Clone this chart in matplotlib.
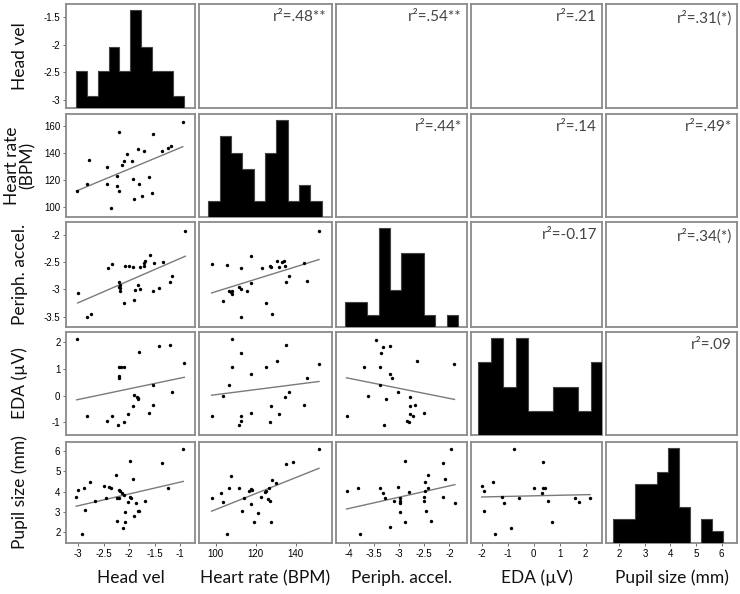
import numpy as np
import matplotlib
matplotlib.use("Agg")
import matplotlib.pyplot as plt

plt.rcParams['axes.unicode_minus'] = False

# ---------------- data ----------------
col_labels = ["Head vel", "Heart rate (BPM)", "Periph. accel.", "EDA (µV)", "Pupil size (mm)"]
row_labels = ["Head vel", "Heart rate\n(BPM)", "Periph. accel.", "EDA (µV)", "Pupil size (mm)"]

x_ranges = [(-3.24, -0.71), (91.7, 158.2), (-4.26, -1.65), (-2.41, 2.63), (1.48, 6.6)]
y_ranges = [(-3.145, -1.265), (92.9, 168.6), (-3.69, -1.76), (-1.48, 2.39), (1.48, 6.43)]
x_ticks = [[-3, -2.5, -2, -1.5, -1], [100, 120, 140], [-4, -3.5, -3, -2.5, -2], [-2, -1, 0, 1, 2], [2, 3, 4, 5, 6]]
x_ticklabels = [["-3", "-2.5", "-2", "-1.5", "-1"], ["100", "120", "140"], ["-4", "-3.5", "-3", "-2.5", "-2"],
                ["-2", "-1", "0", "1", "2"], ["2", "3", "4", "5", "6"]]
y_ticks = [[-3, -2.5, -2, -1.5], [100, 120, 140, 160], [-3.5, -3, -2.5, -2], [-1, 0, 1, 2], [2, 3, 4, 5, 6]]
y_ticklabels = [["-3", "-2.5", "-2", "-1.5"], ["100", "120", "140", "160"], ["-3.5", "-3", "-2.5", "-2"],
                ["-1", "0", "1", "2"], ["2", "3", "4", "5", "6"]]

# histograms (diagonal)
hv_hist_edges = [-3.04, -2.828, -2.616, -2.404, -2.192, -1.98, -1.768, -1.556, -1.344, -1.132, -0.92]
hv_hist_counts = [3, 1, 3, 5, 3, 8, 5, 3, 3, 1]
hr_hist_edges = [96.3, 101.97, 107.64, 113.31, 118.98, 124.65, 130.32, 135.99, 141.66, 147.33, 153.0]
hr_hist_counts = [1, 5, 4, 3, 1, 4, 6, 1, 2, 1]
pa_hist_edges = [-4.09, -3.864, -3.638, -3.412, -3.186, -2.96, -2.734, -2.508, -2.282, -2.056, -1.83]
pa_hist_counts = [2, 2, 1, 8, 3, 6, 6, 1, 0, 1]
eda_hist_edges = [-2.13, -1.65, -1.17, -0.69, -0.21, 0.27, 0.75, 1.23, 1.71, 2.19, 2.67]
eda_hist_counts = [3, 4, 2, 4, 1, 1, 2, 2, 1, 3]
pu_hist_edges = [1.77, 2.197, 2.624, 3.051, 3.478, 3.905, 4.332, 4.759, 5.186, 5.613, 6.04]
pu_hist_counts = [2, 2, 5, 5, 6, 8, 3, 0, 2, 1]

# scatter panels (lower triangle)
hv_hr_x = [-3.03, -2.83, -2.78, -2.44, -2.44, -2.35, -2.23, -2.21, -2.23, -2.20, -2.14, -2.10, -2.05, -1.94,
           -1.92, -1.90, -1.82, -1.80, -1.75, -1.72, -1.62, -1.55, -1.54, -1.35, -1.23, -1.18, -0.95]
hv_hr_y = [112.0, 117.1, 134.8, 129.4, 117.1, 99.7, 123.0, 155.6, 115.7, 112.0, 131.1, 134.0, 139.2, 134.3,
           120.6, 106.3, 143.1, 117.1, 108.6, 141.6, 122.5, 110.3, 153.9, 141.4, 143.8, 145.1, 162.5]

hv_pa_x = [-3.01, -2.82, -2.75, -2.42, -2.33, -2.21, -2.20, -2.19, -2.18, -2.19, -2.11, -2.08, -2.01, -1.92,
           -1.90, -1.88, -1.82, -1.78, -1.78, -1.72, -1.71, -1.69, -1.59, -1.52, -1.54, -1.41, -1.33, -1.21,
           -1.16, -0.90]
hv_pa_y = [-3.07, -3.50, -3.46, -2.61, -2.54, -2.95, -2.86, -2.92, -2.97, -3.03, -3.25, -2.56, -2.57, -2.58,
           -3.19, -3.01, -2.92, -2.58, -3.00, -2.56, -2.52, -2.47, -2.37, -2.51, -3.03, -2.97, -2.49, -2.86,
           -2.75, -1.93]

hv_eda_x = [-3.03, -2.83, -2.44, -2.34, -2.22, -2.21, -2.20, -2.20, -2.16, -2.11, -2.11, -2.03, -1.93,
            -1.90, -1.85, -1.83, -1.82, -1.80, -1.61, -1.54, -1.54, -1.41, -1.21, -1.16, -0.92]
hv_eda_y = [2.11, -0.75, -0.95, -0.75, -1.10, 0.75, 0.65, 1.09, 1.09, 1.06, -1.00, -0.70, -0.39,
            0.03, -0.04, -0.13, -0.08, 1.63, -0.66, 0.40, -0.35, 1.86, 1.90, 0.15, 1.21]

hv_pu_x = [-3.04, -3.01, -2.88, -2.93, -2.86, -2.76, -2.68, -2.50, -2.45, -2.39, -2.36, -2.26, -2.24, -2.23,
           -2.21, -2.20, -2.18, -2.14, -2.13, -2.11, -2.09, -2.08, -2.03, -1.99, -1.98, -1.97, -1.93, -1.90,
           -1.86, -1.83, -1.80, -1.69, -1.35, -1.24, -0.94]
hv_pu_y = [3.75, 4.07, 4.16, 1.92, 3.09, 4.48, 3.53, 4.27, 3.70, 4.24, 4.19, 4.81, 3.70, 2.57,
           3.67, 4.07, 4.02, 3.94, 2.23, 3.83, 2.52, 3.01, 3.50, 5.49, 3.75, 3.70, 4.60, 2.80,
           3.42, 3.04, 3.04, 3.53, 5.41, 4.20, 6.08]

hr_pa_x = [98.0, 105.5, 103.5, 106.8, 107.7, 108.0, 108.3, 111.7, 112.5, 112.5, 112.7, 115.5, 117.5, 117.5,
           123.3, 125.0, 127.2, 127.7, 128.0, 130.5, 131.7, 133.3, 134.2, 134.7, 135.2, 136.8, 144.3, 145.7, 151.7]
hr_pa_y = [-2.54, -2.55, -3.21, -3.03, -3.05, -3.08, -3.03, -2.95, -2.61, -2.99, -3.50, -3.02, -2.38, -2.88,
           -2.61, -3.25, -2.57, -2.58, -3.46, -2.48, -2.58, -2.49, -2.48, -2.57, -2.87, -2.75, -2.51, -2.84, -1.93]

hr_eda_x = [98.0, 103.5, 106.8, 108.0, 108.3, 111.7, 112.5, 112.7, 112.7, 117.5, 117.5, 125.0, 127.2, 127.5,
            130.5, 131.7, 134.7, 135.2, 136.8, 144.3, 145.7, 151.7]
hr_eda_y = [-0.75, 0.0, 0.40, 2.11, 1.09, -1.10, -0.95, -0.75, 1.61, 0.80, -0.66, 1.06, -1.01, -0.39,
            1.31, -0.70, -0.04, 1.90, 0.13, -0.35, 0.65, 1.19]

hr_pu_x = [98.0, 102.5, 103.8, 105.8, 106.7, 107.5, 111.7, 113.0, 114.3, 116.8, 117.5, 117.7, 118.3, 119.2,
           121.3, 122.5, 124.7, 125.2, 126.3, 126.7, 127.2, 127.7, 128.0, 130.0, 135.2, 138.5, 151.7]
hr_pu_y = [3.67, 3.91, 3.50, 1.90, 4.16, 4.76, 4.20, 3.04, 3.67, 4.02, 3.39, 4.12, 4.07, 2.49,
           2.96, 3.71, 3.96, 4.02, 3.63, 4.16, 3.55, 2.52, 4.56, 4.40, 5.35, 5.43, 6.07]

pa_eda_x = [-4.05, -3.71, -3.63, -3.46, -3.39, -3.37, -3.33, -3.30, -3.26, -3.18, -3.19, -3.15, -3.39, -3.03,
            -2.78, -2.78, -2.78, -2.73, -2.68, -2.85, -2.81, -2.65, -2.50, -1.90]
pa_eda_y = [-0.75, 1.06, 0.0, 2.09, 1.09, 1.61, 1.84, -1.10, -0.13, 1.88, 0.80, 0.65, 0.40, 0.15,
            -0.04, -0.39, -0.70, -0.75, -0.35, -0.94, -1.01, 1.31, -0.66, 1.19]

pa_pu_x = [-4.05, -3.83, -3.78, -3.38, -3.33, -3.29, -3.19, -3.10, -3.03, -2.99, -2.98, -2.98, -2.98, -2.89,
           -2.89, -2.81, -2.51, -2.50, -2.49, -2.48, -2.46, -2.43, -2.43, -2.36, -2.13, -2.13, -2.08, -1.97, -1.89]
pa_pu_y = [4.04, 4.16, 1.90, 4.19, 3.94, 3.67, 2.25, 3.53, 4.24, 3.67, 3.53, 3.42, 3.01, 2.52,
           5.49, 3.99, 3.75, 3.53, 4.04, 4.48, 3.06, 4.81, 4.19, 2.57, 5.41, 3.71, 4.60, 6.08, 3.42]

eda_pu_x = [-2.00, -1.91, -1.91, -1.55, -1.49, -1.21, -1.14, -0.88, -0.76, -0.57, 0.01, 0.33, 0.37, 0.37,
            0.43, 0.56, 0.72, 1.59, 1.74, 2.17]
eda_pu_y = [4.27, 4.04, 3.04, 4.45, 1.90, 3.75, 3.42, 2.23, 6.08, 3.70, 4.20, 3.91, 5.46, 4.19,
            4.16, 3.53, 2.52, 3.70, 3.47, 3.67]

# r^2 annotations (upper triangle): (row, col, text)
r2_rows = [0, 0, 0, 0, 1, 1, 1, 2, 2, 3]
r2_cols = [1, 2, 3, 4, 2, 3, 4, 3, 4, 4]
r2_texts = ["r²=.48**", "r²=.54**", "r²=.21", "r²=.31(*)", "r²=.44*", "r²=.14", "r²=.49*",
            "r²=-0.17", "r²=.34(*)", "r²=.09"]

hists = [(hv_hist_edges, hv_hist_counts), (hr_hist_edges, hr_hist_counts), (pa_hist_edges, pa_hist_counts),
         (eda_hist_edges, eda_hist_counts), (pu_hist_edges, pu_hist_counts)]
scatters = {(1, 0): (hv_hr_x, hv_hr_y), (2, 0): (hv_pa_x, hv_pa_y), (3, 0): (hv_eda_x, hv_eda_y),
            (4, 0): (hv_pu_x, hv_pu_y), (2, 1): (hr_pa_x, hr_pa_y), (3, 1): (hr_eda_x, hr_eda_y),
            (4, 1): (hr_pu_x, hr_pu_y), (3, 2): (pa_eda_x, pa_eda_y), (4, 2): (pa_pu_x, pa_pu_y),
            (4, 3): (eda_pu_x, eda_pu_y)}

# ---------------- layout ----------------
W, H = 740, 594
fig = plt.figure(figsize=(W / 100, H / 100), dpi=100)
lefts = [66, 199, 336, 471, 606]
rights = [195, 332, 467, 602, 737]
tops = [4, 114, 222, 332, 442]
bottoms = [108, 217, 327, 435, 543]

label_font = "Lato"
tick_font = "Liberation Sans"
border = "#8a8a8a"

for r in range(5):
    for c in range(5):
        ax = fig.add_axes([lefts[c] / W, 1 - bottoms[r] / H, (rights[c] - lefts[c]) / W,
                           (bottoms[r] - tops[r]) / H])
        ax.set_xlim(*x_ranges[c])
        ax.set_ylim(*y_ranges[r])
        for s in ax.spines.values():
            s.set_color(border)
            s.set_linewidth(1.3)
        ax.tick_params(length=2, width=0.6, color="#555555", pad=2, labelsize=7)
        if r == 4:
            ax.set_xticks(x_ticks[c])
            ax.set_xticklabels(x_ticklabels[c], fontfamily=tick_font, fontsize=7)
        else:
            ax.set_xticks([])
        if c == 0:
            ax.set_yticks(y_ticks[r])
            ax.set_yticklabels(y_ticklabels[r], fontfamily=tick_font, fontsize=7)
        else:
            ax.set_yticks([])

        if r == c:
            edges, counts = hists[r]
            hx = ax.twinx()
            hx.set_ylim(0, max(counts) * 1.065)
            hx.set_yticks([])
            for s in hx.spines.values():
                s.set_visible(False)
            hx.stairs(counts, edges, fill=True, color="black", linewidth=0)
            hx.stairs(counts, edges, fill=False, color="#444444", linewidth=0.8)
        elif r > c:
            xs, ys = scatters[(r, c)]
            xs = np.asarray(xs)
            ys = np.asarray(ys)
            ax.scatter(xs, ys, s=6, color="black", zorder=3, linewidths=0)
            k, b = np.polyfit(xs, ys, 1)
            xl = np.array([xs.min(), xs.max()])
            ax.plot(xl, k * xl + b, color="#7a7a7a", linewidth=1.0, zorder=2)

for rr, cc, t in zip(r2_rows, r2_cols, r2_texts):
    fig.text((rights[cc] - 5) / W, 1 - (tops[rr] + 6) / H, t, ha="right", va="top",
             fontsize=11, color="#444444", fontfamily=label_font)

# axis labels
for c, lab in enumerate(col_labels):
    fig.text((lefts[c] + rights[c]) / 2 / W, 1 - 578 / H, lab, ha="center", va="center",
             fontsize=12.5, fontfamily=label_font, color="#111111")
for r, lab in enumerate(row_labels):
    fig.text(20 / W, 1 - (tops[r] + bottoms[r]) / 2 / H, lab, ha="center", va="center",
             rotation=90, fontsize=12.5, fontfamily=label_font, color="#111111",
             multialignment="center", linespacing=1.0)

fig.savefig("out.png", dpi=100)
